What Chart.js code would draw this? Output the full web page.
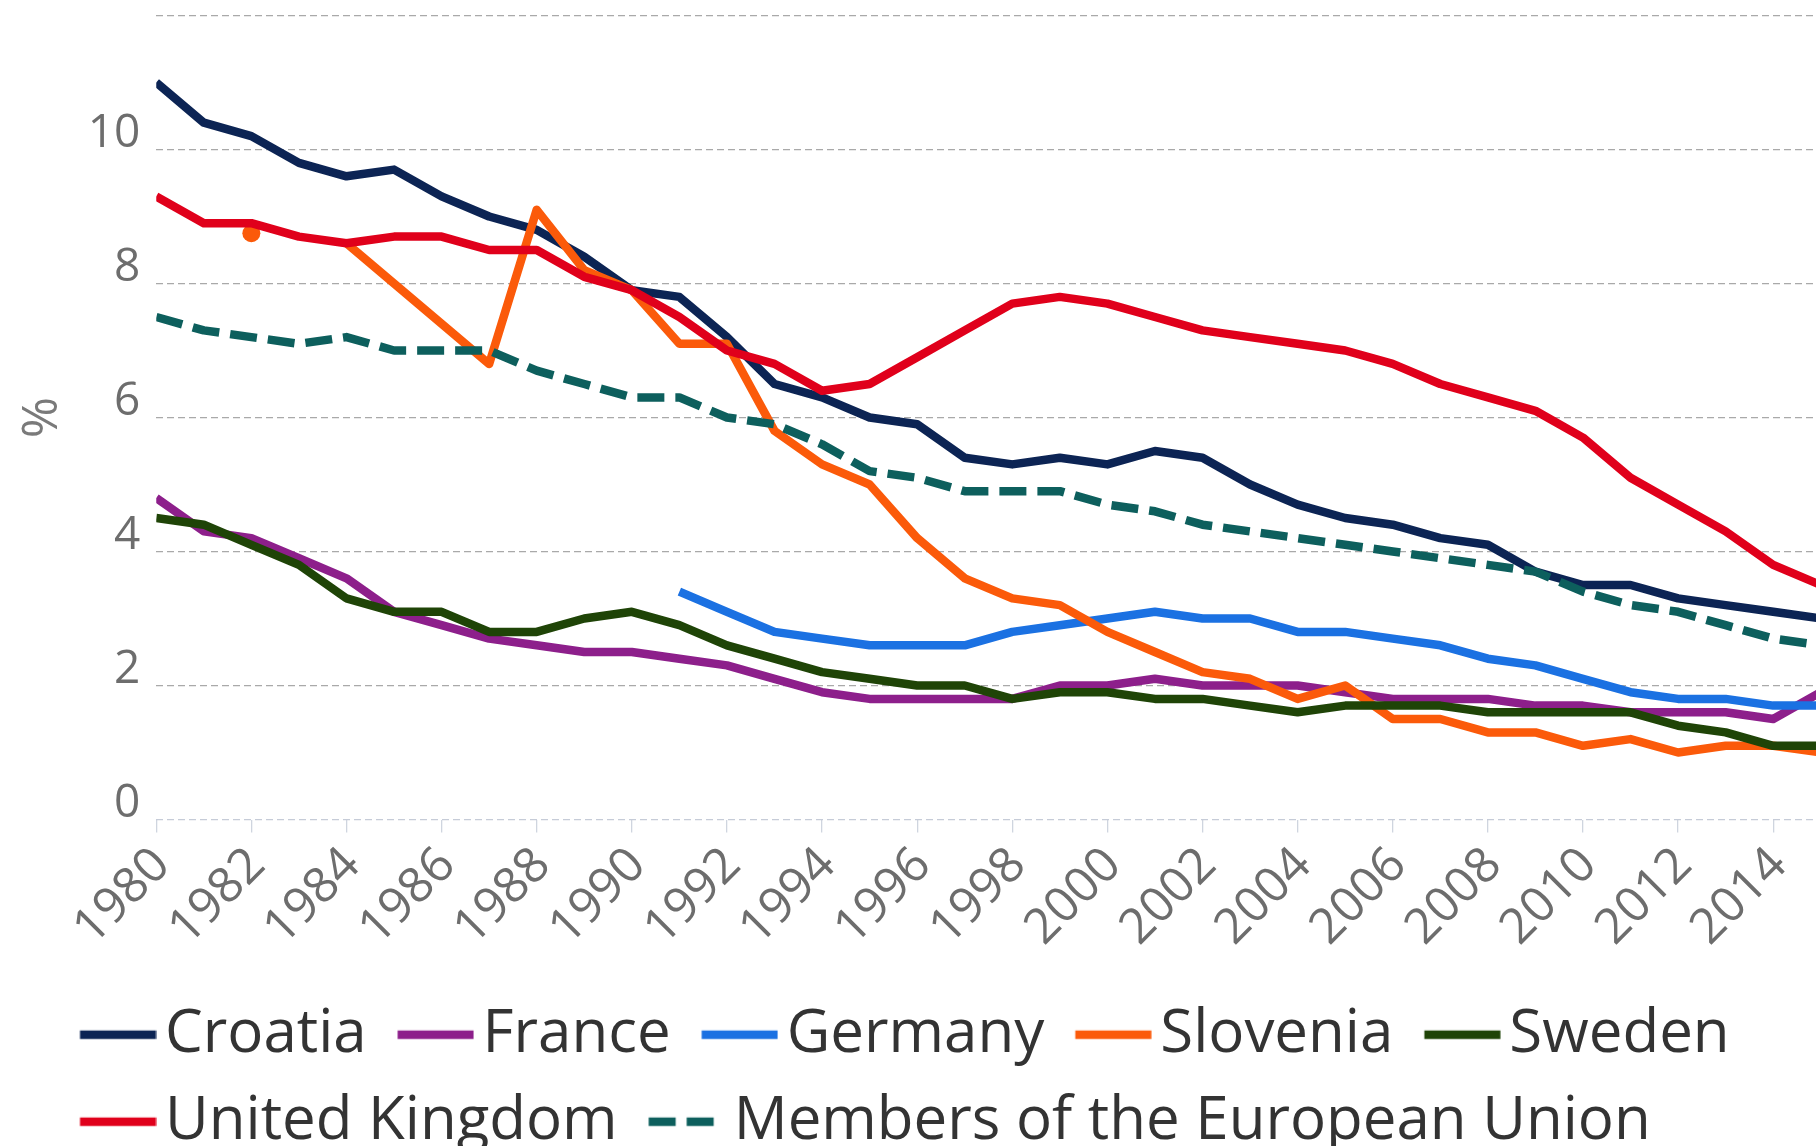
<!DOCTYPE html>
<html>
<head>
<meta charset="utf-8">
<script src="https://cdn.jsdelivr.net/npm/chart.js@4.4.1/dist/chart.umd.min.js"></script>
<style>
html,body{margin:0;padding:0;background:#ffffff;overflow:hidden}
canvas{display:block}
</style>
</head>
<body>
<canvas id="c" width="1816" height="1146"></canvas>
<script>
// ---- data ----
const years = [1980,1981,1982,1983,1984,1985,1986,1987,1988,1989,
               1990,1991,1992,1993,1994,1995,1996,1997,1998,1999,
               2000,2001,2002,2003,2004,2005,2006,2007,2008,2009,
               2010,2011,2012,2013,2014,2015];

const croatia = [11.0,10.4,10.2,9.8,9.6,9.7,9.3,9.0,8.8,8.4,
                 7.9,7.8,7.2,6.5,6.3,6.0,5.9,5.4,5.3,5.4,
                 5.3,5.5,5.4,5.0,4.7,4.5,4.4,4.2,4.1,3.7,
                 3.5,3.5,3.3,3.2,3.1,3.0];
const france = [4.8,4.3,4.2,3.9,3.6,3.1,2.9,2.7,2.6,2.5,
                2.5,2.4,2.3,2.1,1.9,1.8,1.8,1.8,1.8,2.0,
                2.0,2.1,2.0,2.0,2.0,1.9,1.8,1.8,1.8,1.7,
                1.7,1.6,1.6,1.6,1.5,1.9];
const germany = [null,null,null,null,null,null,null,null,null,null,
                 null,3.4,3.1,2.8,2.7,2.6,2.6,2.6,2.8,2.9,
                 3.0,3.1,3.0,3.0,2.8,2.8,2.7,2.6,2.4,2.3,
                 2.1,1.9,1.8,1.8,1.7,1.7];
const slovenia = [null,null,8.75,null,8.6,8.0,7.4,6.8,9.1,8.2,
                  7.9,7.1,7.1,5.8,5.3,5.0,4.2,3.6,3.3,3.2,
                  2.8,2.5,2.2,2.1,1.8,2.0,1.5,1.5,1.3,1.3,
                  1.1,1.2,1.0,1.1,1.1,1.0];
const sweden = [4.5,4.4,4.1,3.8,3.3,3.1,3.1,2.8,2.8,3.0,
                3.1,2.9,2.6,2.4,2.2,2.1,2.0,2.0,1.8,1.9,
                1.9,1.8,1.8,1.7,1.6,1.7,1.7,1.7,1.6,1.6,
                1.6,1.6,1.4,1.3,1.1,1.1];
const unitedKingdom = [9.3,8.9,8.9,8.7,8.6,8.7,8.7,8.5,8.5,8.1,
                       7.9,7.5,7.0,6.8,6.4,6.5,6.9,7.3,7.7,7.8,
                       7.7,7.5,7.3,7.2,7.1,7.0,6.8,6.5,6.3,6.1,
                       5.7,5.1,4.7,4.3,3.8,3.5];
const euMembers = [7.5,7.3,7.2,7.1,7.2,7.0,7.0,7.0,6.7,6.5,
                   6.3,6.3,6.0,5.9,5.6,5.2,5.1,4.9,4.9,4.9,
                   4.7,4.6,4.4,4.3,4.2,4.1,4.0,3.9,3.8,3.7,
                   3.4,3.2,3.1,2.9,2.7,2.6];

const seriesNames = ['Croatia','France','Germany','Slovenia','Sweden','United Kingdom','Members of the European Union'];
const seriesValues = [croatia, france, germany, slovenia, sweden, unitedKingdom, euMembers];
const seriesColors = ['#0c2454','#8d1f8b','#1b71e2','#fb5a0a','#1f4407','#e0001b','#0d5f5d'];
const seriesDashes = [[],[],[],[],[],[],[27,11]];
const yTickValues = [0,2,4,6,8,10];
const yAxisTitle = '%';

// ---- styling helpers ----
const FONT = "'Open Sans', 'DejaVu Sans', sans-serif";
const LEGEND_BOX = 59;

function legendSymbol(color, dash) {
  const c = document.createElement('canvas');
  c.width = 102; c.height = 12;
  const g = c.getContext('2d');
  g.strokeStyle = color;
  g.lineWidth = 8.5;
  g.lineCap = 'butt';
  g.setLineDash(dash || []);
  g.beginPath();
  g.moveTo(25.5, 6);
  g.lineTo(101.5, 6);
  g.stroke();
  return c;
}

function isolatedRadius(ctx) {
  const d = ctx.dataset.data;
  const i = ctx.dataIndex;
  if (!d[i] || d[i].y == null) return 0;
  const prev = d[i - 1], next = d[i + 1];
  const pNull = !prev || prev.y == null;
  const nNull = !next || next.y == null;
  return (pNull && nNull) ? 9 : 0;
}

const datasets = seriesNames.map((name, i) => ({
  label: name,
  data: years.map((yr, k) => ({ x: yr, y: seriesValues[i][k] })),
  borderColor: seriesColors[i],
  backgroundColor: seriesColors[i],
  borderWidth: 8.5,
  borderDash: seriesDashes[i],
  borderCapStyle: 'butt',
  borderJoinStyle: 'round',
  pointRadius: isolatedRadius,
  pointBorderWidth: 0,
  pointBackgroundColor: seriesColors[i],
  pointHoverRadius: 0,
  tension: 0,
  spanGaps: false,
  fill: false,
  order: seriesNames.length - 1 - i
}));

new Chart(document.getElementById('c'), {
  type: 'line',
  data: { datasets },
  options: {
    responsive: false,
    animation: false,
    devicePixelRatio: 1,
    events: [],
    layout: { padding: { left: 49, right: 0, top: 15.5, bottom: -15.7 } },
    plugins: {
      tooltip: { enabled: false },
      legend: {
        position: 'bottom',
        align: 'start',
        labels: {
          font: { family: FONT, size: 60 },
          color: '#333333',
          padding: 27,
          usePointStyle: true,
          pointStyleWidth: LEGEND_BOX,
          generateLabels: (chart) => chart.data.datasets.map((ds, i) => ({
            text: ds.label,
            fillStyle: ds.borderColor,
            strokeStyle: ds.borderColor,
            fontColor: '#333333',
            lineWidth: 0,
            hidden: false,
            datasetIndex: i,
            pointStyle: legendSymbol(ds.borderColor, ds.borderDash)
          }))
        }
      }
    },
    scales: {
      x: {
        type: 'linear',
        min: 1980,
        max: 2014.9,
        border: { display: false },
        grid: { drawOnChartArea: false, drawTicks: true, tickLength: 13, color: '#cfd5df', lineWidth: 1.3 },
        ticks: {
          stepSize: 2,
          includeBounds: false,
          autoSkip: false,
          minRotation: 45,
          maxRotation: 45,
          padding: 4,
          labelOffset: 6,
          color: '#6d6d6d',
          font: { family: FONT, size: 49 },
          callback: (v) => String(v)
        },
        afterFit: (s) => { s.height = 158.2; s.paddingLeft = 0; s.paddingRight = 0; }
      },
      y: {
        min: 0,
        max: 12,
        border: { display: false, dash: [7, 4] },
        grid: {
          drawTicks: false,
          lineWidth: 1.3,
          color: (ctx) => (ctx.tick && ctx.tick.value === 0) ? '#c6ccd8' : '#a9a9a9'
        },
        afterBuildTicks: (s) => { s.ticks = yTickValues.concat([12]).map(v => ({ value: v })); },
        ticks: {
          stepSize: 2,
          padding: 16,
          labelOffset: -16,
          color: '#6d6d6d',
          font: { family: FONT, size: 46 },
          callback: (v) => yTickValues.includes(v) ? String(v) : ''
        },
        title: {
          display: true,
          text: yAxisTitle,
          color: '#7a7a7a',
          font: { family: FONT, size: 50, lineHeight: 1 },
          padding: { top: -31.5, bottom: 0 }
        },
        afterFit: (s) => { s.width = 107.25; s.paddingTop = 0; s.paddingBottom = 0; }
      }
    }
  }
});
</script>
</body>
</html>
